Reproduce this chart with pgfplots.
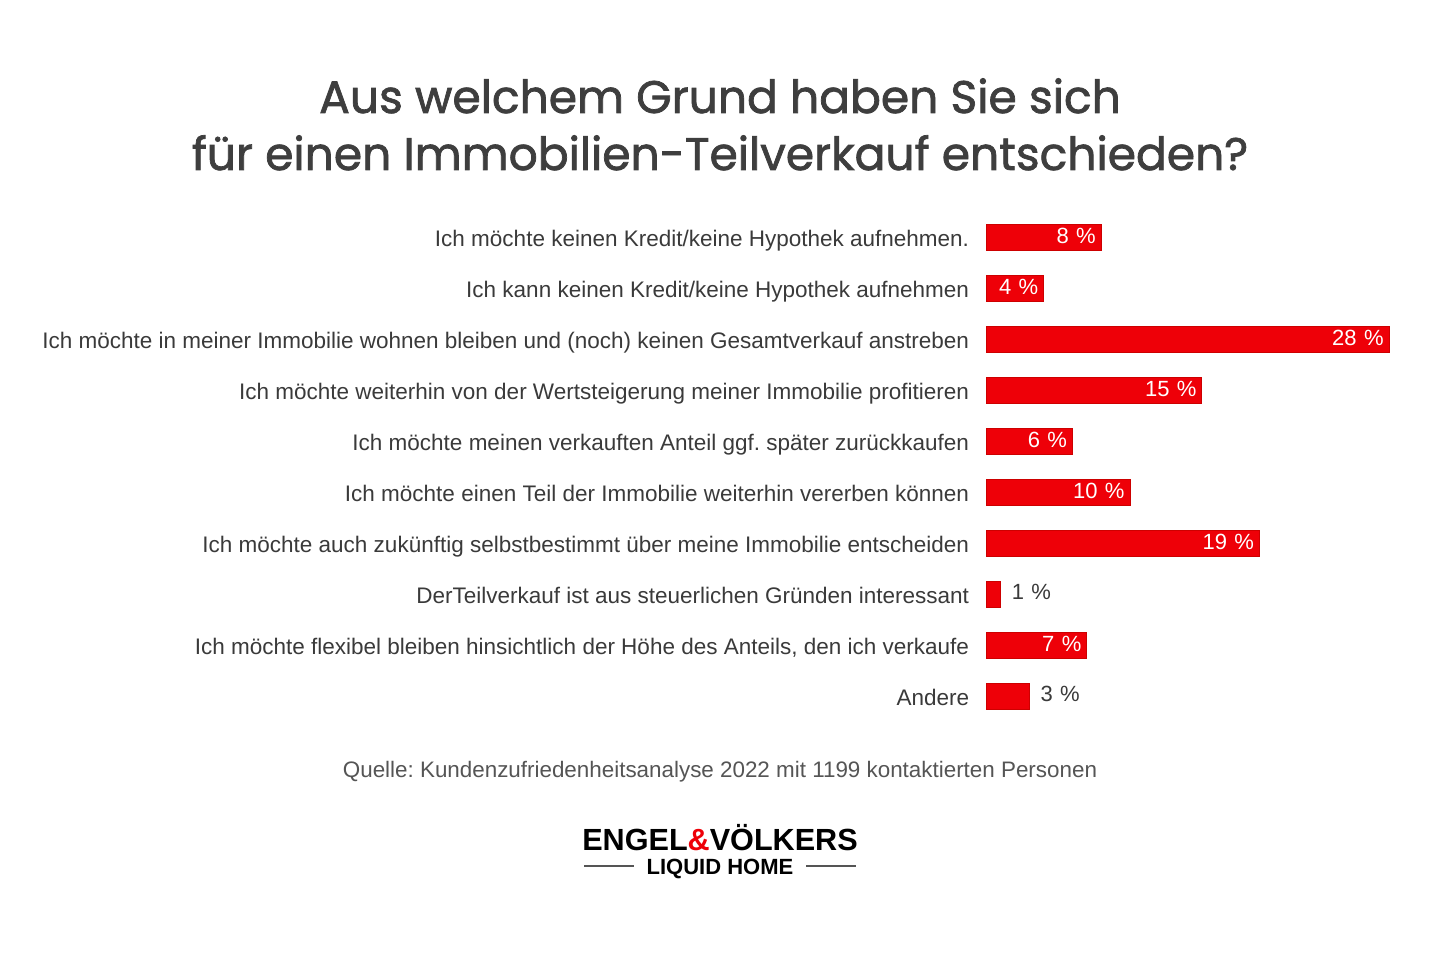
\documentclass[border=0pt]{standalone}
\usepackage{pgfplots}
\pgfplotsset{compat=1.18}
\usepackage{fontspec}
\setmainfont{Liberation Sans}
\newfontfamily\titlefont[FakeBold=1.6]{Poppins}
\definecolor{barred}{RGB}{238,0,8}
\definecolor{baredge}{RGB}{205,0,0}
\definecolor{labgray}{RGB}{58,58,58}
\definecolor{titlegray}{RGB}{62,62,62}
\definecolor{srcgray}{RGB}{85,85,85}
\frenchspacing
\begin{document}
\begin{tikzpicture}
\fill[white] (0,0) rectangle (720pt,480pt);
% title
\node[anchor=base, text=titlegray, font=\titlefont\fontsize{22.8pt}{26pt}\selectfont, inner sep=0pt] at (360pt,423.5pt) {Aus welchem Grund haben Sie sich};
\node[anchor=base, text=titlegray, font=\titlefont\fontsize{22.8pt}{26pt}\selectfont, inner sep=0pt] at (360pt,395pt) {für einen Immobilien-Teilverkauf entschieden?};
\begin{axis}[
  at={(493pt,374.25pt)}, anchor=north west,
  scale only axis, width=201.5pt, height=255pt,
  xmin=0, xmax=28, ymin=-0.5, ymax=9.5, y dir=reverse,
  xbar, bar width=13pt, bar shift=0pt,
  axis line style={draw=none}, tick style={draw=none},
  xtick=\empty,
  ytick={0,1,2,3,4,5,6,7,8,9},
  yticklabels={
    {Ich möchte keinen Kredit/keine Hypothek aufnehmen.},
    {Ich kann keinen Kredit/keine Hypothek aufnehmen},
    {Ich möchte in meiner Immobilie wohnen bleiben und (noch) keinen Gesamtverkauf anstreben},
    {Ich möchte weiterhin von der Wertsteigerung meiner Immobilie profitieren},
    {Ich möchte meinen verkauften Anteil ggf. später zurückkaufen},
    {Ich möchte einen Teil der Immobilie weiterhin vererben können},
    {Ich möchte auch zukünftig selbstbestimmt über meine Immobilie entscheiden},
    {DerTeilverkauf ist aus steuerlichen Gründen interessant},
    {Ich möchte flexibel bleiben hinsichtlich der Höhe des Anteils, den ich verkaufe},
    {Andere}},
  yticklabel style={font=\fontsize{11.25pt}{13pt}\selectfont, text=labgray, anchor=base east, inner sep=0pt, xshift=-4pt, yshift=-4.6pt},
  point meta=x,
  /pgf/number format/assume math mode=true,
  clip=false,
]
\addplot[fill=barred, draw=baredge, line width=0.4pt,
  nodes near coords={\pgfmathprintnumber{\pgfplotspointmeta}\,\,\%},
  nodes near coords style={anchor=east, inner sep=0pt, xshift=-2.5pt, yshift=0.5pt, text=white, font=\fontsize{11pt}{12pt}\selectfont}]
  coordinates {(8,0) (4,1) (28,2) (15,3) (6,4) (10,5) (19,6) (7,8)};
\addplot[fill=barred, draw=baredge, line width=0.4pt,
  nodes near coords={\pgfmathprintnumber{\pgfplotspointmeta}\,\,\%},
  nodes near coords style={anchor=west, inner sep=0pt, xshift=5.5pt, yshift=1pt, text=labgray, font=\fontsize{11pt}{12pt}\selectfont}]
  coordinates {(1,7) (3,9)};
\end{axis}
% source
\node[anchor=base, text=srcgray, font=\fontsize{11.2pt}{13pt}\selectfont, inner sep=0pt] at (360pt,91.5pt) {Quelle: Kundenzufriedenheitsanalyse 2022 mit 1199 kontaktierten Personen};
% logo
\node[anchor=base, text=black, font=\bfseries\fontsize{15.3pt}{18pt}\selectfont, inner sep=0pt] at (360pt,55pt) {ENGEL\textcolor{barred}{\&}VÖLKERS};
\node[anchor=base, text=black, font=\bfseries\fontsize{11pt}{13pt}\selectfont, inner sep=0pt] at (360pt,43pt) {LIQUID HOME};
\draw[srcgray, line width=0.6pt] (292pt,47pt) -- (317pt,47pt);
\draw[srcgray, line width=0.6pt] (403pt,47pt) -- (428pt,47pt);
\end{tikzpicture}
\end{document}
